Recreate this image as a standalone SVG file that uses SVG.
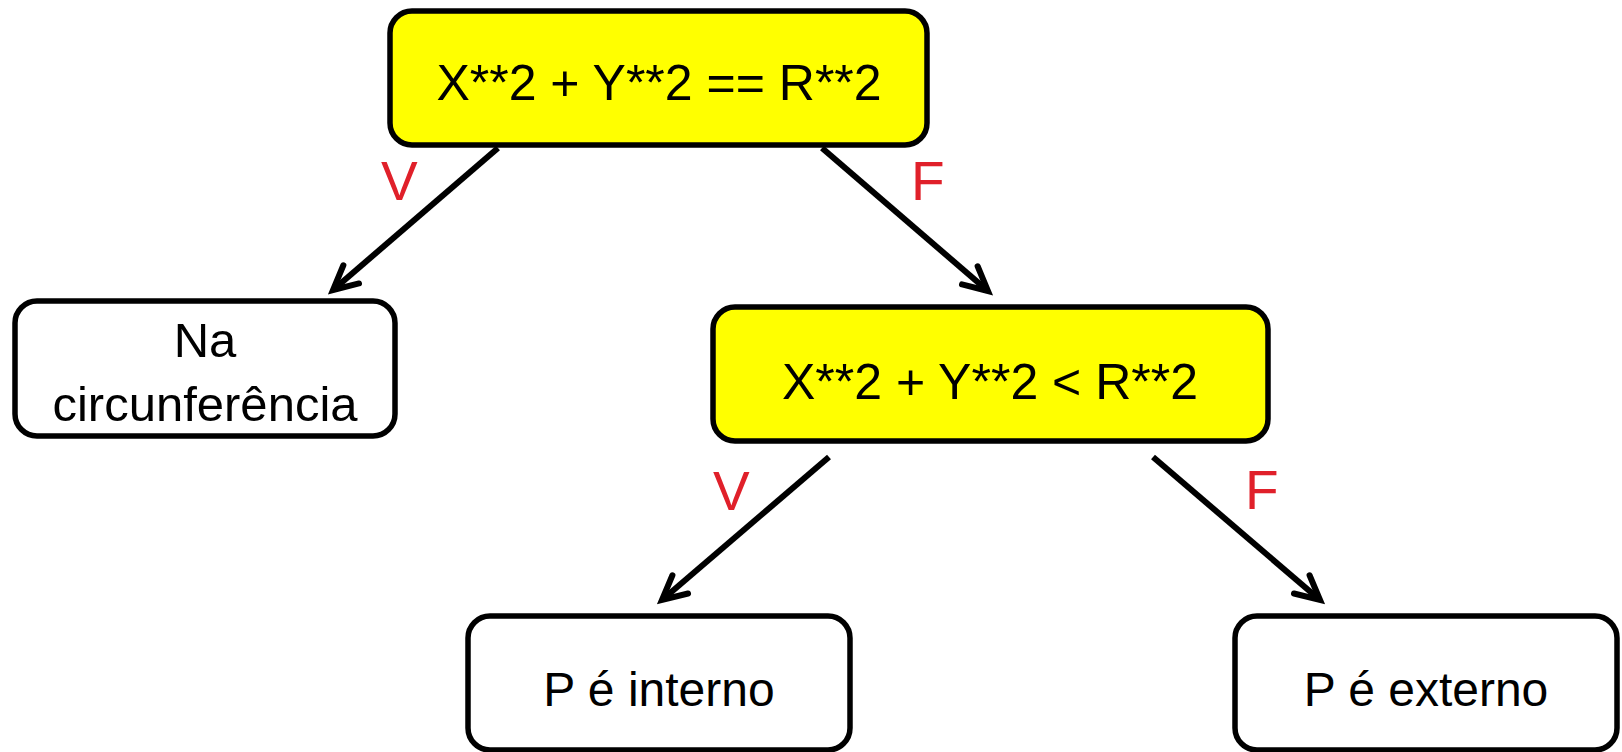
<svg xmlns="http://www.w3.org/2000/svg" width="1622" height="752" viewBox="0 0 1622 752">
<defs>
<style>
.box{stroke:#000;stroke-width:5.5;}
.yellow{fill:#FFFF00;}
.white{fill:#FFFFFF;}
.t{font-family:"Liberation Sans",Arial,sans-serif;fill:#000;text-anchor:middle;}
.lbl{font-family:"Liberation Sans",Arial,sans-serif;fill:#E0202A;font-size:55px;}
.conn{stroke:#000;stroke-width:6;fill:none;}
</style>
<marker id="arr" markerUnits="userSpaceOnUse" markerWidth="40" markerHeight="40" refX="0" refY="0" viewBox="-30 -20 40 40" orient="auto">
<path d="M-24,-12 L0,0 L-24,12" fill="none" stroke="#000" stroke-width="6" stroke-linecap="round" stroke-linejoin="miter"/>
</marker>
</defs>
<rect width="1622" height="752" fill="#FFFFFF"/>
<g id="connectors">
<line class="conn" x1="498" y1="148" x2="333" y2="290" marker-end="url(#arr)"/>
<line class="conn" x1="822" y1="148" x2="988" y2="291" marker-end="url(#arr)"/>
<line class="conn" x1="829" y1="457" x2="662" y2="600" marker-end="url(#arr)"/>
<line class="conn" x1="1153" y1="457" x2="1320" y2="600" marker-end="url(#arr)"/>
<text class="lbl" x="381" y="200">V</text>
<text class="lbl" x="911" y="200">F</text>
<text class="lbl" x="713" y="510">V</text>
<text class="lbl" x="1245" y="509">F</text>
</g>
<g id="node-root">
<rect class="box yellow" x="390" y="11" width="537" height="134" rx="22"/>
<text class="t" x="659" y="100" font-size="50">X**2 + Y**2 == R**2</text>
</g>
<g id="node-circ">
<rect class="box white" x="15" y="301" width="380" height="135" rx="22"/>
<text class="t" x="205" y="357" font-size="49">Na</text>
<text class="t" x="205" y="421" font-size="49">circunferência</text>
</g>
<g id="node-cond2">
<rect class="box yellow" x="713" y="307" width="555" height="134" rx="22"/>
<text class="t" x="990" y="399" font-size="50">X**2 + Y**2 &lt; R**2</text>
</g>
<g id="node-interno">
<rect class="box white" x="468" y="616" width="382" height="134" rx="22"/>
<text class="t" x="659" y="706" font-size="48">P é interno</text>
</g>
<g id="node-externo">
<rect class="box white" x="1235" y="616" width="382" height="134" rx="22"/>
<text class="t" x="1426" y="706" font-size="48">P é externo</text>
</g>
</svg>
